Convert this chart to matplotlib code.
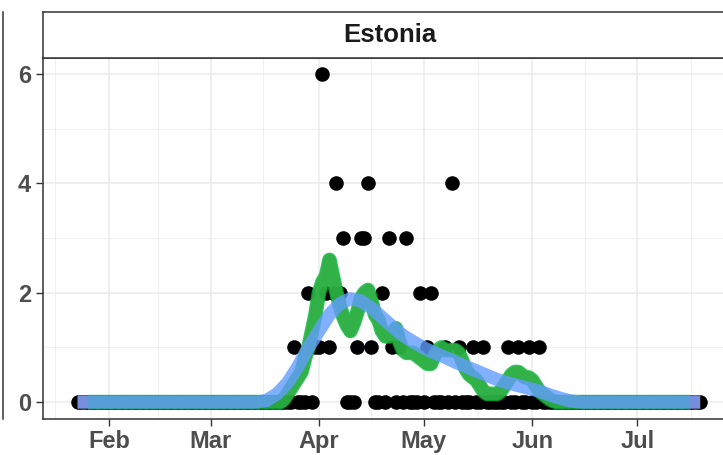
import pandas as pd
import matplotlib
matplotlib.use('Agg')
from matplotlib import pyplot as plt
import matplotlib.dates as mdates
from matplotlib.lines import Line2D

plt.rcParams['font.family'] = ['Liberation Sans', 'DejaVu Sans']

# Daily deaths, Estonia (days not listed are 0)
first_day = '2020-01-23'
last_day = '2020-07-19'
death_dates = ['2020-03-25', '2020-03-29', '2020-03-31', '2020-04-01', '2020-04-02',
               '2020-04-03', '2020-04-04', '2020-04-05', '2020-04-06', '2020-04-07',
               '2020-04-08', '2020-04-12', '2020-04-13', '2020-04-14', '2020-04-15',
               '2020-04-16', '2020-04-19', '2020-04-21', '2020-04-22', '2020-04-24',
               '2020-04-26', '2020-04-30', '2020-05-02', '2020-05-03', '2020-05-07',
               '2020-05-09', '2020-05-11', '2020-05-15', '2020-05-18', '2020-05-25',
               '2020-05-28', '2020-05-31', '2020-06-03']
death_counts = [1, 2, 1, 1, 6,
                2, 1, 2, 4, 2,
                3, 1, 3, 3, 4,
                1, 2, 3, 1, 1,
                3, 2, 1, 2, 1,
                4, 1, 1, 1, 1,
                1, 1, 1]

# Smoothed daily line (green), read from Mar 20 to Jun 12, 0 outside
avg_start = '2020-03-20'
avg_values = [0.0, 0.0, 0.05, 0.15, 0.25, 0.35, 0.45, 0.55, 0.8, 1.0,
              1.3, 1.6, 2.0, 2.2, 2.3, 2.6, 2.3, 2.0, 1.75, 1.55,
              1.4, 1.3, 1.45, 1.65, 1.9, 2.0, 2.05, 1.85, 1.6, 1.5,
              1.3, 1.2, 1.2, 1.25, 1.35, 1.1, 0.95, 0.9, 0.9, 0.9,
              0.85, 0.8, 0.75, 0.7, 0.7, 0.85, 0.95, 1.0, 0.95, 0.95,
              0.95, 0.95, 0.9, 0.75, 0.6, 0.5, 0.45, 0.4, 0.3, 0.2,
              0.15, 0.15, 0.15, 0.15, 0.2, 0.3, 0.4, 0.5, 0.55, 0.55,
              0.5, 0.45, 0.45, 0.4, 0.3, 0.2, 0.15, 0.1, 0.05, 0.02,
              0.0, 0.0, 0.0, 0.0, 0.0]

# Trend curve (blue), read every 3 days
trend_dates = ['2020-01-23', '2020-03-14', '2020-03-17', '2020-03-20', '2020-03-23',
               '2020-03-26', '2020-03-29', '2020-04-01', '2020-04-04', '2020-04-07',
               '2020-04-10', '2020-04-13', '2020-04-16', '2020-04-19', '2020-04-22',
               '2020-04-25', '2020-04-28', '2020-05-01', '2020-05-04', '2020-05-07',
               '2020-05-10', '2020-05-13', '2020-05-16', '2020-05-19', '2020-05-22',
               '2020-05-25', '2020-05-28', '2020-05-31', '2020-06-03', '2020-06-06',
               '2020-06-09', '2020-06-12', '2020-06-15', '2020-07-19']
trend_values = [0.0, 0.0, 0.03, 0.15, 0.35,
                0.65, 1.0, 1.3, 1.6, 1.8,
                1.89, 1.85, 1.72, 1.55, 1.38,
                1.22, 1.1, 0.99, 0.9, 0.82,
                0.73, 0.65, 0.57, 0.49, 0.41,
                0.35, 0.3, 0.25, 0.2, 0.13,
                0.07, 0.02, 0.0, 0.0]

# shared x range of the facet grid
x_range = ['2020-01-13 00:00', '2020-07-29 10:00']
y_ticks = [0, 2, 4, 6]
month_ticks = ['2020-02-01', '2020-03-01', '2020-04-01', '2020-05-01', '2020-06-01', '2020-07-01']
month_labels = ['Feb', 'Mar', 'Apr', 'May', 'Jun', 'Jul']
minor_x = ['2020-01-16 12:00', '2020-02-15 00:00', '2020-03-16 00:00', '2020-04-16 00:00',
           '2020-05-16 12:00', '2020-06-16 00:00', '2020-07-16 12:00']
panel_title = 'Estonia'

days = pd.date_range(first_day, last_day, freq='D')
deaths = pd.Series(death_counts, index=pd.to_datetime(death_dates)).reindex(days, fill_value=0)
avg = pd.Series(avg_values, index=pd.date_range(avg_start, periods=len(avg_values), freq='D'))
avg_full = avg.reindex(days, fill_value=0.0)
green = avg_full[pd.Timestamp('2020-01-26'):pd.Timestamp('2020-07-16')]
trend = pd.Series(trend_values, index=pd.to_datetime(trend_dates))

W, H = 723, 455
fig = plt.figure(figsize=(W / 100, H / 100), dpi=100)
left_px, right_px, top_px, bottom_px = 42.7, 736.6, 57.5, 418.5
ax = fig.add_axes([left_px / W, 1 - bottom_px / H, (right_px - left_px) / W, (bottom_px - top_px) / H])

# points, then the lines on top
ax.scatter(deaths.index, deaths.values, s=110, color='black', zorder=3, linewidths=0)
ax.plot(avg_full.index, avg_full.values, color='#F8766D', lw=9, alpha=0.8,
        solid_capstyle='butt', solid_joinstyle='round', zorder=4)
ax.plot(green.index, green.values, color='#00BA38', lw=10.5, alpha=0.8,
        solid_capstyle='butt', solid_joinstyle='round', zorder=5)
ax.plot(trend.index, trend.values, color='#619CFF', lw=9.5, alpha=0.8,
        solid_capstyle='butt', solid_joinstyle='round', zorder=6)

ax.set_xlim(mdates.date2num(pd.to_datetime(x_range)))
ax.set_ylim(-0.3, 6.3)

ax.set_yticks(y_ticks)
ax.set_yticks([1, 3, 5], minor=True)
ax.set_xticks(mdates.date2num(pd.to_datetime(month_ticks)))
ax.set_xticklabels(month_labels)
ax.set_xticks(mdates.date2num(pd.to_datetime(minor_x)), minor=True)

ax.grid(which='major', color='#EBEBEB', lw=1.1)
ax.grid(which='minor', color='#EBEBEB', lw=0.55)
ax.set_axisbelow(True)
ax.tick_params(which='major', length=5, width=1.0, color='#333333', labelcolor='#4D4D4D',
               labelsize=17, pad=3.5)
ax.tick_params(which='minor', length=0)
for lab in ax.get_xticklabels() + ax.get_yticklabels():
    lab.set_fontweight('bold')
for side in ['left', 'bottom', 'right', 'top']:
    ax.spines[side].set_color('#333333')
    ax.spines[side].set_linewidth(1.1)

# facet strip
strip = fig.add_axes([left_px / W, 1 - top_px / H, (right_px - left_px) / W, (top_px - 12) / H])
strip.set_xticks([])
strip.set_yticks([])
strip.set_facecolor('white')
for side in strip.spines.values():
    side.set_color('#333333')
    side.set_linewidth(1.1)
fig.text((left_px + right_px) / 2 / W, 1 - 35.5 / H, panel_title, ha='center', va='center',
         fontsize=18.5, fontweight='bold', color='#1A1A1A')

# edge of neighbouring panel
fig.add_artist(Line2D([2.5 / W, 2.5 / W], [1 - 12 / H, 1 - 418.5 / H], color='#333333', lw=1.1))

fig.savefig('out.png', dpi=100)
